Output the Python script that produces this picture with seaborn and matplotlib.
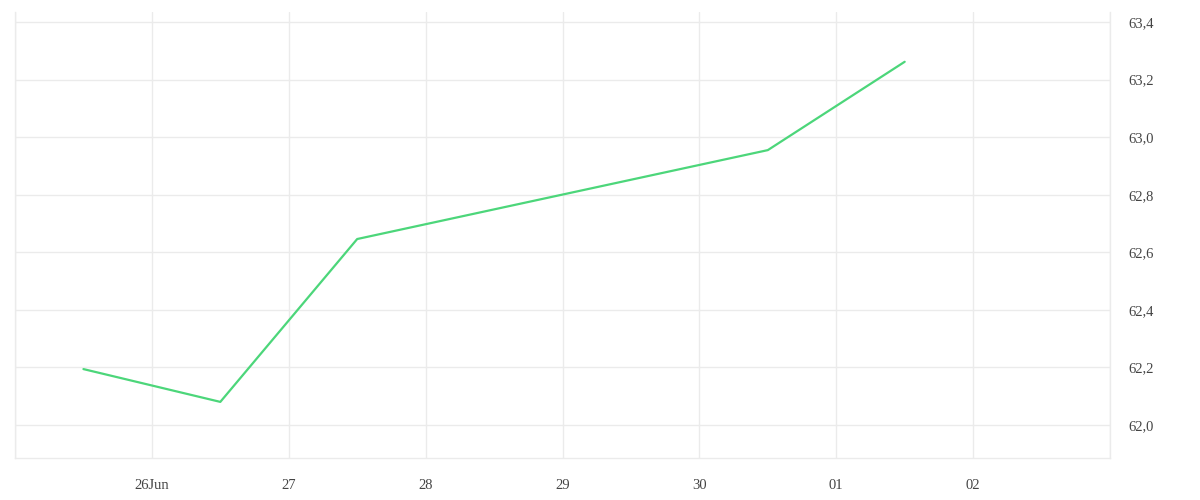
import pandas as pd
import seaborn as sns
import matplotlib.pyplot as plt
from matplotlib.ticker import FuncFormatter

dates = ["2023-06-25 12:00", "2023-06-26 12:00", "2023-06-27 12:00",
         "2023-06-30 12:00", "2023-07-01 12:00"]
values = [62.194, 62.08, 62.646, 62.955, 63.262]
y_ticks = [62.0, 62.2, 62.4, 62.6, 62.8, 63.0, 63.2, 63.4]

df = pd.DataFrame({"date": pd.to_datetime(dates), "value": values})

sns.set_style("white")
plt.rcParams["font.family"] = ["Liberation Serif", "DejaVu Serif"]

grid_col = "#ebebeb"
text_col = "#444444"

fig = plt.figure(figsize=(12, 5), dpi=100)
ax = fig.add_axes([0.0125, 0.084, 0.9125, 0.892])

sns.lineplot(data=df, x="date", y="value", ax=ax, color="#4cd67a", linewidth=1.6)

ax.set_xlim(pd.Timestamp("2023-06-25"), pd.Timestamp("2023-07-03"))
ax.set_ylim(61.885, 63.435)

# one tick per day; the two edge days sit on the frame and stay unlabelled
day_ticks = pd.date_range("2023-06-25", "2023-07-03", freq="D")
ax.set_xticks(day_ticks)
labels = []
for i, d in enumerate(day_ticks):
    if i == 0 or i == len(day_ticks) - 1:
        labels.append("")
    elif i == 1:
        labels.append(d.strftime("%d%b"))
    else:
        labels.append(d.strftime("%d"))
ax.set_xticklabels(labels)

ax.set_yticks(y_ticks)
ax.yaxis.tick_right()
ax.yaxis.set_major_formatter(FuncFormatter(lambda v, p: f"{v:.1f}".replace(".", ",")))

ax.grid(True, color=grid_col, linewidth=1)
ax.spines["top"].set_visible(False)
for side in ["bottom", "left", "right"]:
    ax.spines[side].set_color(grid_col)
    ax.spines[side].set_linewidth(1)

ax.tick_params(axis="x", length=10, width=1, color=grid_col,
               labelsize=10.5, pad=5, labelcolor=text_col)
ax.tick_params(axis="y", length=0, labelsize=10.5, pad=13, labelcolor=text_col)

ax.set_xlabel("")
ax.set_ylabel("")

fig.savefig("out.png", dpi=100)
